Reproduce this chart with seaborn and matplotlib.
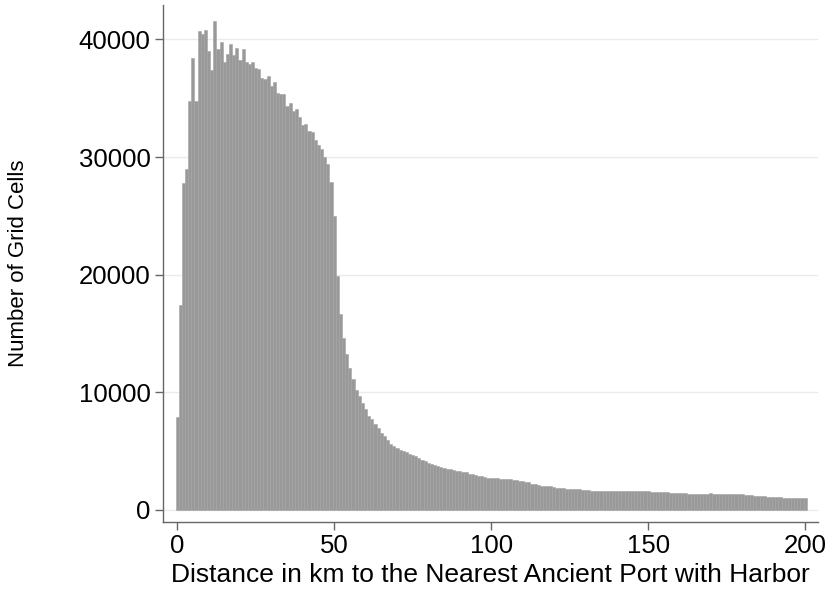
import numpy as np
import pandas as pd
import seaborn as sns
import matplotlib
matplotlib.use("Agg")
import matplotlib.pyplot as plt

# distance bins (km, discrete, centred on integers) and number of grid cells per bin
distance_km = list(range(0, 201))
grid_cells = [
    7900, 17400, 27800, 29000, 34800, 38400, 34800, 40700, 40500, 40800,
    39000, 37400, 41600, 39200, 39800, 38100, 38800, 39600, 38700, 39300,
    38250, 39150, 38100, 37950, 38100, 37600, 37450, 36750, 36600, 36900,
    36050, 36350, 35450, 35400, 35350, 34300, 34600, 33950, 34050, 33400,
    32700, 32850, 32250, 32150, 31450, 31000, 30700, 30000, 29450, 27900,
    25000, 19900, 16650, 14600, 13250, 12050, 11100, 10200, 9700, 9100,
    8550, 8000, 7700, 7300, 6950, 6550, 6300, 5950, 5650, 5450,
    5250, 5100, 5000, 4900, 4800, 4700, 4550, 4400, 4250, 4150,
    4000, 3900, 3800, 3750, 3650, 3550, 3500, 3450, 3400, 3350,
    3300, 3250, 3200, 3100, 3050, 2950, 2900, 2850, 2800, 2750,
    2700, 2700, 2700, 2650, 2650, 2650, 2600, 2550, 2550, 2500,
    2500, 2400, 2350, 2250, 2200, 2100, 2050, 2050, 2000, 2000,
    1950, 1900, 1850, 1850, 1800, 1780, 1760, 1750, 1750, 1740,
    1720, 1700, 1650, 1650, 1650, 1650, 1650, 1600, 1600, 1600,
    1600, 1600, 1600, 1600, 1600, 1600, 1600, 1600, 1600, 1600,
    1600, 1560, 1560, 1560, 1560, 1560, 1500, 1450, 1450, 1450,
    1450, 1450, 1450, 1400, 1400, 1400, 1400, 1400, 1400, 1400,
    1450, 1400, 1400, 1400, 1400, 1400, 1400, 1400, 1350, 1350,
    1350, 1250, 1250, 1250, 1150, 1150, 1150, 1150, 1100, 1100,
    1100, 1100, 1100, 1050, 1050, 1050, 1050, 1050, 1050, 1050,
    1000,
]
x_ticks = [0, 50, 100, 150, 200]
y_ticks = [0, 10000, 20000, 30000, 40000]

df = pd.DataFrame({"distance": distance_km, "cells": grid_cells})

sns.set_style("white")
plt.rcParams["font.family"] = ["Liberation Sans", "DejaVu Sans"]

fig = plt.figure(figsize=(8.25, 5.95), dpi=100)
ax = fig.add_axes([0.1976, 0.1227, 0.7939, 0.8689])

sns.histplot(data=df, x="distance", weights="cells", discrete=True,
             color="#999999", edgecolor="#a4a4a4", linewidth=0.4,
             alpha=1, ax=ax, zorder=2)

ax.set_xlim(-4.5, 204.1)
ax.set_ylim(-1020, 42925)
ax.set_xticks(x_ticks)
ax.set_yticks(y_ticks)
ax.set_xticklabels([str(t) for t in x_ticks])
ax.set_yticklabels([str(t) for t in y_ticks])
ax.yaxis.grid(True, color="#ebebeb", linewidth=1, zorder=0)
ax.set_axisbelow(True)

for side in ["top", "right"]:
    ax.spines[side].set_visible(False)
for side in ["left", "bottom"]:
    ax.spines[side].set_color("#666666")
    ax.spines[side].set_linewidth(1)

ax.tick_params(axis="both", which="major", labelsize=18.5, length=6,
               width=1, color="#666666", labelcolor="black", pad=3,
               bottom=True, left=True)

ax.set_xlabel("Distance in km to the Nearest Ancient Port with Harbor",
              fontsize=19, labelpad=3, color="black")
ax.set_ylabel("Number of Grid Cells", fontsize=16, labelpad=36, color="black")

fig.savefig("out.png", dpi=100)
